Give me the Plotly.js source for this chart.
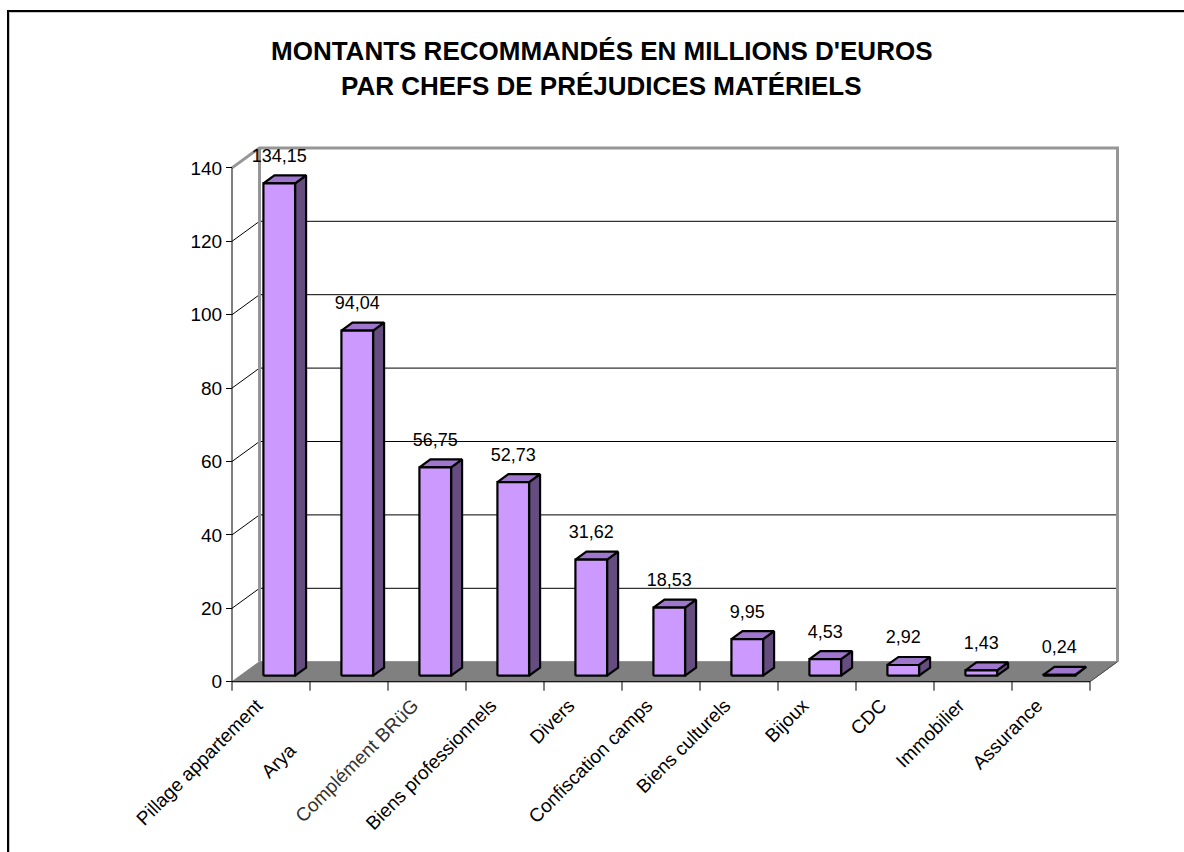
<!DOCTYPE html>
<html>
<head>
<meta charset="utf-8">
<script src="https://cdn.plot.ly/plotly-3.0.1.min.js"></script>
<style>
  html, body { margin: 0; padding: 0; background: #fff; overflow: hidden; }
  #wrap { position: relative; width: 1184px; height: 852px; }
  #chart { position: absolute; left: 0; top: 0; width: 1184px; height: 852px; }
  #frame { position: absolute; left: 7px; top: 10px; width: 1300px; height: 1000px;
           border-left: 2px solid #000; border-top: 2px solid #000; pointer-events: none; }
  #frame2 { position: absolute; left: 9px; top: 12px; width: 1300px; height: 1000px;
           border-left: 1px solid #c8c8c8; border-top: 1px solid #c8c8c8; pointer-events: none; }
</style>
</head>
<body>
<div id="wrap">
  <div id="chart"></div>
  <div id="frame"></div>
  <div id="frame2"></div>
</div>
<script>
// ---------------- DATA ----------------
const categories = ["Pillage appartement", "Arya", "Complément BRüG", "Biens professionnels",
  "Divers", "Confiscation camps", "Biens culturels", "Bijoux", "CDC", "Immobilier", "Assurance"];
const values = [134.15, 94.04, 56.75, 52.73, 31.62, 18.53, 9.95, 4.53, 2.92, 1.43, 0.24];
const yTicks = [0, 20, 40, 60, 80, 100, 120, 140];
const titleLines = ["MONTANTS RECOMMANDÉS EN MILLIONS D'EUROS", "PAR CHEFS DE PRÉJUDICES MATÉRIELS"];

// ---------------- LAYOUT GEOMETRY ----------------
const W = 1184, H = 852;
const ML = 220, MR = 59, MT = 140, MB = 150;
const PX_X = 78;      // pixels per category
const PX_Y = 3.67;    // pixels per value unit
const X0PIX = 232, Y0PIX = 681.7;
const plotW = W - ML - MR, plotH = H - MT - MB;
const xmin = -(X0PIX - ML) / PX_X, xmax = xmin + plotW / PX_X;
const ymin = -((H - MB) - Y0PIX) / PX_Y, ymax = ymin + plotH / PX_Y;
const N = categories.length;
const yTop = Math.max(...yTicks);
const DX = 27.5 / PX_X, DY = 20 / PX_Y;   // full depth of the 3D box
const F0 = 0.3, F1 = 0.7;                  // bar front / back depth fraction
const HW = 0.203;                           // half bar width (category units)
const TICKLEN = 9 / PX_Y;                   // category boundary tick length
const FONT = '"Liberation Sans", Arial, sans-serif';

const traces = [];
const base = { type: 'scatter', mode: 'lines', hoverinfo: 'skip', showlegend: false };

// floor
traces.push(Object.assign({}, base, {
  x: [0, DX, N + DX, N, 0], y: [0, DY, DY, 0, 0],
  fill: 'toself', fillcolor: '#808080', line: { color: '#808080', width: 1 }
}));

// gridlines on back wall and side wall
const gbx = [], gby = [], gsx = [], gsy = [];
yTicks.forEach(v => {
  if (v > 0 && v < yTop) {
    gbx.push(DX, N + DX, null); gby.push(v + DY, v + DY, null);
    gsx.push(0, DX, null); gsy.push(v, v + DY, null);
  }
});
traces.push(Object.assign({}, base, { x: gbx, y: gby, line: { color: '#000', width: 1 } }));
traces.push(Object.assign({}, base, { x: gsx, y: gsy, line: { color: '#000', width: 1 } }));

// wall edges (gray)
traces.push(Object.assign({}, base, {
  x: [0, DX, N + DX, N + DX, null, DX, DX],
  y: [yTop, yTop + DY, yTop + DY, DY, null, DY, yTop + DY],
  line: { color: '#969696', width: 3 }
}));
// floor right edge
traces.push(Object.assign({}, base, {
  x: [N, N + DX], y: [0, DY], line: { color: '#4a4a4a', width: 1 }
}));
// front axis lines
traces.push(Object.assign({}, base, {
  x: [0, 0, N], y: [yTop, 0, 0], line: { color: '#000', width: 1 }
}));
// category boundary ticks
const btx = [], bty = [];
for (let i = 0; i <= N; i++) { btx.push(i, i, null); bty.push(0, -TICKLEN, null); }
traces.push(Object.assign({}, base, { x: btx, y: bty, line: { color: '#000', width: 1 } }));

// bars
const fx = [], fy = [], sx = [], sy = [], tx = [], ty = [];
values.forEach((v, i) => {
  const c = i + 0.5;
  const l0 = c - HW + F0 * DX, r0 = c + HW + F0 * DX;
  const l1 = c - HW + F1 * DX, r1 = c + HW + F1 * DX;
  const b0 = F0 * DY, b1 = F1 * DY;
  fx.push(l0, r0, r0, l0, l0, null); fy.push(b0, b0, v + b0, v + b0, b0, null);
  sx.push(r0, r1, r1, r0, r0, null); sy.push(b0, b1, v + b1, v + b0, b0, null);
  tx.push(l0, r0, r1, l1, l0, null); ty.push(v + b0, v + b0, v + b1, v + b1, v + b0, null);
});
const barLine = { color: '#000', width: 2.2 };
traces.push(Object.assign({}, base, { x: sx, y: sy, fill: 'toself', fillcolor: '#664d80', line: barLine }));
traces.push(Object.assign({}, base, { x: tx, y: ty, fill: 'toself', fillcolor: '#9e76cc', line: barLine }));
traces.push(Object.assign({}, base, { x: fx, y: fy, fill: 'toself', fillcolor: '#cc99ff', line: barLine }));

// data labels
traces.push({
  type: 'scatter', mode: 'text', hoverinfo: 'skip', showlegend: false, cliponaxis: false,
  x: values.map((v, i) => i + 0.5 + F0 * DX),
  y: values.map(v => v + F0 * DY + 26 / PX_Y),
  text: values.map(v => v.toFixed(2).replace('.', ',')),
  textposition: 'middle center',
  textfont: { family: FONT, size: 18, color: '#000' }
});

// tick texts
const tickText = categories.map((c, i) => {
  if (c === 'Arya') return c + '\u00a0'.repeat(12);
  if (c.indexOf('BR') >= 0) return '<span style="color:#333">' + c + '</span>';
  return c;
});

const pxToPaperX = p => (p - ML) / plotW;
const pxToPaperY = p => ((H - MB) - p) / plotH;

const layout = {
  width: W, height: H,
  margin: { l: ML, r: MR, t: MT, b: MB, pad: 0 },
  paper_bgcolor: '#fff', plot_bgcolor: 'rgba(0,0,0,0)',
  showlegend: false,
  font: { family: FONT, color: '#000' },
  xaxis: {
    range: [xmin, xmax], anchor: 'free', position: (0 - ymin) / (ymax - ymin),
    showgrid: false, zeroline: false, showline: false,
    tickmode: 'array', tickvals: categories.map((c, i) => i + 0.5), ticktext: tickText,
    tickangle: -45, ticks: '', ticklen: 0,
    ticklabelstandoff: 8, ticklabelshift: -14,
    tickfont: { family: FONT, size: 19, color: '#000' },
    fixedrange: true
  },
  yaxis: {
    range: [ymin, ymax], anchor: 'free', position: (0 - xmin) / (xmax - xmin),
    showgrid: false, zeroline: false, showline: false,
    tickmode: 'array', tickvals: yTicks, ticktext: yTicks.map(String),
    ticks: 'outside', ticklen: 6, tickcolor: '#000', tickwidth: 1,
    tickfont: { family: FONT, size: 19, color: '#000' },
    fixedrange: true
  },
  annotations: titleLines.map((t, k) => ({
    text: '<b>' + t + '</b>', showarrow: false,
    xref: 'paper', yref: 'paper', x: pxToPaperX(601), y: pxToPaperY(51.5 + 35 * k),
    xanchor: 'center', yanchor: 'middle',
    font: { family: FONT, size: 26, color: '#000' }
  }))
};

Plotly.newPlot('chart', traces, layout, { staticPlot: true, displayModeBar: false });
</script>
</body>
</html>
